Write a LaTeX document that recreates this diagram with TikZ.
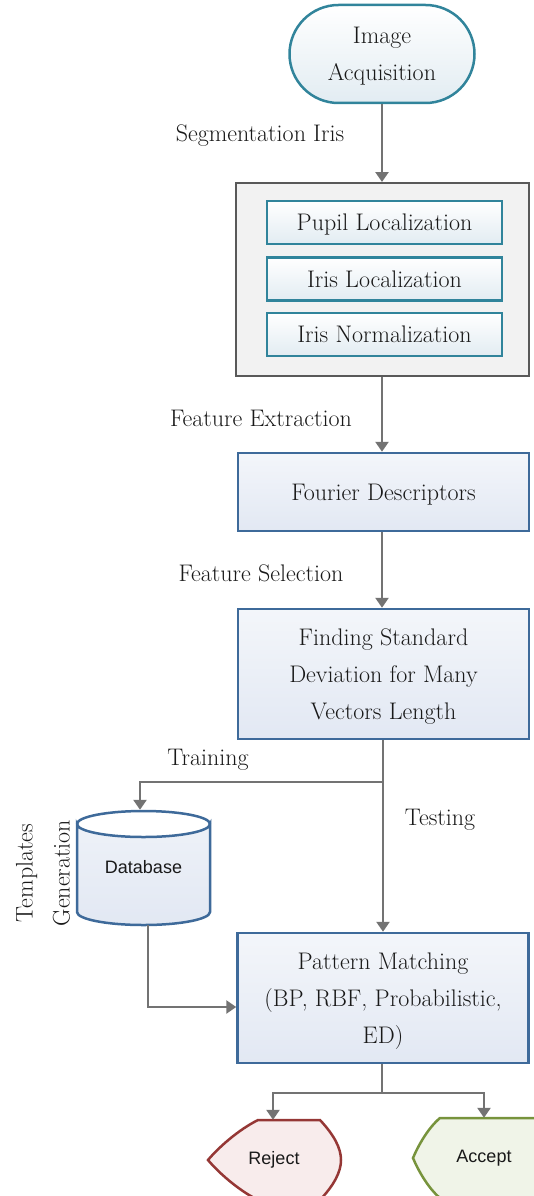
\documentclass[tikz,border=0pt]{standalone}
\usepackage{fontspec}
\setsansfont{Liberation Sans}
\usetikzlibrary{arrows.meta,shapes.misc}
\definecolor{tealb}{RGB}{49,132,155}
\definecolor{tealf}{RGB}{226,236,242}
\definecolor{blueb}{RGB}{62,106,154}
\definecolor{bluef}{RGB}{226,232,243}
\definecolor{grayb}{RGB}{89,89,89}
\definecolor{grayf}{RGB}{242,242,242}
\definecolor{arrc}{RGB}{115,115,115}
\definecolor{txtc}{RGB}{25,25,25}
\definecolor{redb}{RGB}{149,55,53}
\definecolor{redf}{RGB}{248,236,236}
\definecolor{greenb}{RGB}{119,147,60}
\definecolor{greenf}{RGB}{240,244,232}
\begin{document}
\begin{tikzpicture}[x=1pt,y=-1pt,
  serif/.style={font=\fontsize{24}{37}\selectfont, text=txtc, align=center},
  lbl/.style={serif, inner sep=0pt},
  acqbox/.style={serif, rounded rectangle, draw=tealb, line width=2.5pt, top color=white, bottom color=tealf, minimum width=185pt, minimum height=98pt, inner sep=0pt, text depth=0pt},
  innerbox/.style={serif, rectangle, draw=tealb, line width=2.5pt, top color=white, bottom color=tealf, minimum width=235pt, minimum height=43pt, inner sep=0pt, text depth=0pt},
  outerbox/.style={rectangle, draw=grayb, line width=2pt, fill=grayf, minimum width=293pt, minimum height=193pt, inner sep=0pt},
  procbox/.style={serif, rectangle, draw=blueb, line width=2.5pt, top color=white!60!bluef, bottom color=bluef, minimum width=291pt, inner sep=0pt, text depth=0pt},
  arr/.style={draw=arrc, line width=2.7pt, -{Triangle[width=13pt,length=10pt]}},
  conn/.style={draw=arrc, line width=2.7pt},
  sans/.style={font=\sffamily\fontsize{18}{20}\selectfont, text=txtc, inner sep=0pt}
]
\useasboundingbox (0,0) rectangle (534,1196);
\clip (0,0) rectangle (534,1196);

% top terminator
\node[acqbox] (acq) at (382,54) {Image\\Acquisition};

% segmentation group
\node[outerbox] (seg) at (382.5,279.5) {};
\node[innerbox] (pupil) at (384.5,222.5) {Pupil Localization};
\node[innerbox] (irisl) at (384.5,279) {Iris Localization};
\node[innerbox] (irisn) at (384.5,334.5) {Iris Normalization};

% process boxes
\node[procbox, minimum height=78pt] (four) at (383.5,492) {Fourier Descriptors};
\node[procbox, minimum height=130pt] (find) at (383.5,674) {Finding Standard\\Deviation for Many\\Vectors Length};
\node[procbox, minimum height=130pt] (pm) at (383,998) {Pattern Matching\\(BP, RBF, Probabilistic,\\ED)};

% labels
\node[lbl] (lseg) at (260,136) {Segmentation Iris};
\node[lbl] (lfe) at (261,418) {Feature Extraction};
\node[lbl] (lfs) at (261,573) {Feature Selection};
\node[lbl] (ltr) at (208,760) {Training};
\node[lbl] (lte) at (440,820) {Testing};
\node[lbl, rotate=90] (ltg) at (43,873) {Templates\\Generation};

% database cylinder
\path[draw=blueb, line width=2.5pt, top color=white!40!bluef, bottom color=bluef]
  (77,824) -- (77,912) arc[start angle=180, end angle=0, x radius=66.5, y radius=13]
  -- (210,824) arc[start angle=0, end angle=180, x radius=66.5, y radius=13] -- cycle;
\draw[blueb, line width=2.5pt] (77,824) arc[start angle=180, end angle=360, x radius=66.5, y radius=13];
\node[sans, minimum width=133pt, minimum height=115pt] (db) at (143.5,867.5) {Database};

% reject / accept displays
\path[draw=redb, line width=2.5pt, fill=redf]
  (258,1120) -- (320,1120) .. controls (334,1135) and (341,1148) .. (341,1160)
  .. controls (341,1172) and (334,1185) .. (320,1200) -- (258,1200)
  .. controls (238,1190) and (218,1172) .. (208,1160)
  .. controls (218,1148) and (238,1130) .. (258,1120) -- cycle;
\node[sans, minimum width=133pt, minimum height=80pt] (rej) at (274,1160) {Reject};
\path[draw=greenb, line width=2.5pt, fill=greenf]
  (440,1118) -- (535,1118) .. controls (549,1133) and (556,1146) .. (556,1158)
  .. controls (556,1170) and (549,1183) .. (535,1198) -- (440,1198)
  .. controls (428,1188) and (418,1170) .. (413,1158)
  .. controls (418,1146) and (428,1128) .. (440,1118) -- cycle;
\node[sans, minimum width=142pt, minimum height=80pt] (acc) at (484,1158) {Accept};

% connectors
\draw[arr] (acq.south -| 382,0) -- (seg.north -| 382,0);
\draw[arr] (seg.south -| 382,0) -- (four.north -| 382,0);
\draw[arr] (four.south -| 382,0) -- (find.north -| 382,0);
\coordinate (br) at (383,782);
\draw[arr] (find.south -| 383,0) -- (pm.north -| 383,0);
\draw[arr] (br) -| (db.north -| 140,0);
\draw[arr] (db.south -| 148,0) |- (pm.west |- 0,1007);
\coordinate (br2) at (382,1093);
\draw[conn] (pm.south -| 382,0) -- (br2);
\draw[arr] (br2) -| (rej.north -| 273,0);
\draw[arr] (br2) -| (acc.north -| 484,0);
\end{tikzpicture}
\end{document}
